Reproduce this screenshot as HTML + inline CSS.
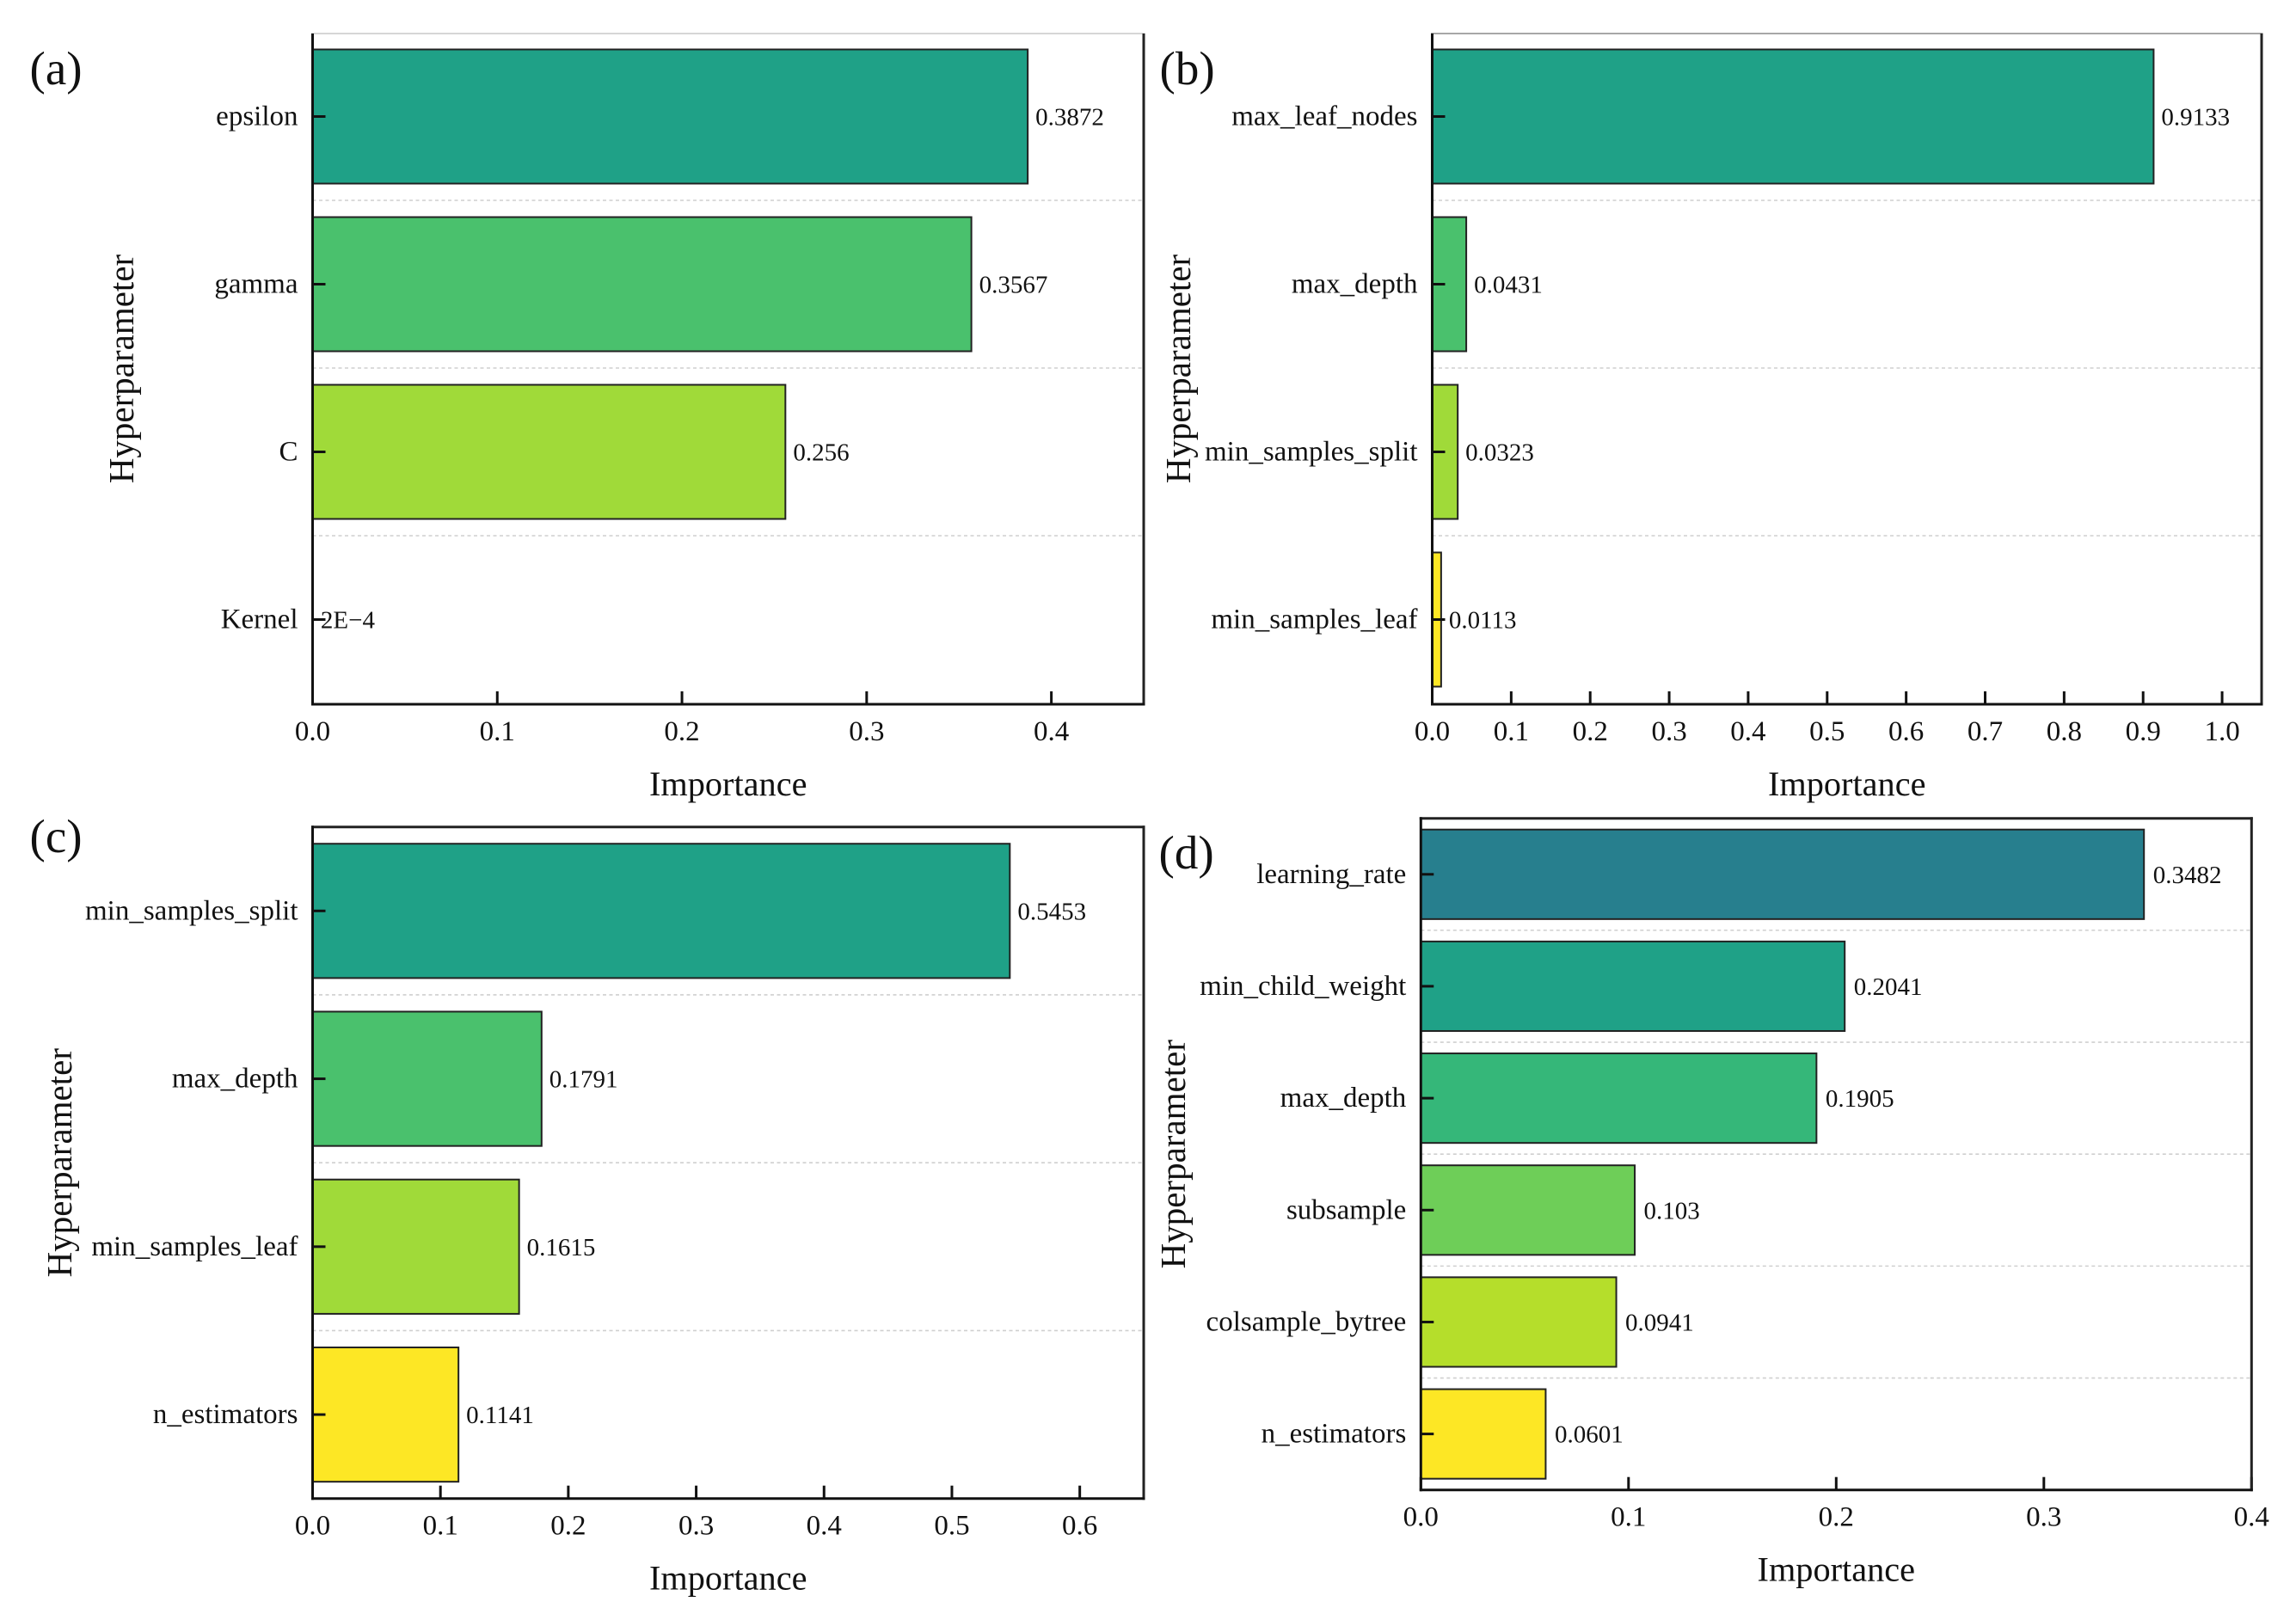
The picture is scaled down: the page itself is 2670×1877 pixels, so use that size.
<!DOCTYPE html>
<html lang="en">
<head>
<meta charset="utf-8">
<title>Hyperparameter importance</title>
<style>
html,body{margin:0;padding:0;background:#fff;}
svg{display:block;font-family:"Liberation Serif","Times New Roman",serif;}
text{fill:#111;}
</style>
</head>
<body>
<svg id="figure" xmlns="http://www.w3.org/2000/svg" width="2670" height="1877" viewBox="0 0 2670 1877"></svg>
<script>
const categoriesA = ["epsilon", "gamma", "C", "Kernel"];
const valuesA = [0.3872, 0.3567, 0.256, 0.0002];
const ticksA = [0.0, 0.1, 0.2, 0.3, 0.4];

const categoriesB = ["max_leaf_nodes", "max_depth", "min_samples_split", "min_samples_leaf"];
const valuesB = [0.9133, 0.0431, 0.0323, 0.0113];
const ticksB = [0.0, 0.1, 0.2, 0.3, 0.4, 0.5, 0.6, 0.7, 0.8, 0.9, 1.0];

const categoriesC = ["min_samples_split", "max_depth", "min_samples_leaf", "n_estimators"];
const valuesC = [0.5453, 0.1791, 0.1615, 0.1141];
const ticksC = [0.0, 0.1, 0.2, 0.3, 0.4, 0.5, 0.6];

const categoriesD = ["learning_rate", "min_child_weight", "max_depth", "subsample", "colsample_bytree", "n_estimators"];
const valuesD = [0.3482, 0.2041, 0.1905, 0.103, 0.0941, 0.0601];
const ticksD = [0.0, 0.1, 0.2, 0.3, 0.4];

const paletteFour = ["#1fa187", "#4ac16d", "#a0da39", "#fde725"];
const paletteSix = ["#277f8e", "#1fa187", "#35b779", "#6ece58", "#b5de2b", "#fde725"];

const NS = "http://www.w3.org/2000/svg";
const figure = document.getElementById("figure");

function line(parent, x1, y1, x2, y2, stroke, width, dash) {
  const el = document.createElementNS(NS, "line");
  el.setAttribute("x1", x1);
  el.setAttribute("y1", y1);
  el.setAttribute("x2", x2);
  el.setAttribute("y2", y2);
  el.setAttribute("stroke", stroke);
  el.setAttribute("stroke-width", width);
  if (dash) el.setAttribute("stroke-dasharray", dash);
  parent.appendChild(el);
  return el;
}

function label(parent, x, y, content, size, anchor, rotate) {
  const el = document.createElementNS(NS, "text");
  el.setAttribute("x", x);
  el.setAttribute("y", y);
  el.setAttribute("font-size", size);
  el.setAttribute("text-anchor", anchor);
  if (rotate) el.setAttribute("transform", "rotate(-90 " + x + " " + y + ")");
  el.textContent = content;
  parent.appendChild(el);
  return el;
}

function printed(v) {
  if (v < 0.001) return v.toExponential(0).toUpperCase().replace("-", "\u2212");
  return String(v);
}

function drawPanel(cfg) {
  const g = document.createElementNS(NS, "g");
  
  
  figure.appendChild(g);

  const plotW = cfg.right - cfg.left;
  const plotH = cfg.bottom - cfg.top;
  const band = plotH / cfg.categories.length;
  const xScale = function (v) { return cfg.left + v / cfg.xMax * plotW; };
  const yScale = function (i) { return cfg.top + cfg.shift + (i + 0.5) * band; };
  const barH = band * 0.8;

  // separators between bars
  for (let i = 1; i < cfg.categories.length; i++) {
    const sep = line(g, cfg.left, yScale(i) - band / 2, cfg.right, yScale(i) - band / 2, "#cfcfcf", 1.6, "4 3.5");
    
    
  }

  // bars
  cfg.values.forEach(function (v, i) {
    const bar = document.createElementNS(NS, "rect");
    bar.setAttribute("x", xScale(0));
    bar.setAttribute("y", yScale(i) - barH / 2);
    bar.setAttribute("width", xScale(v) - xScale(0));
    bar.setAttribute("height", barH);
    bar.setAttribute("fill", cfg.palette[i]);
    bar.setAttribute("stroke", "#222");
    bar.setAttribute("stroke-width", 2);
    
    
    g.appendChild(bar);

    const val = label(g, xScale(v) + cfg.valueGap, yScale(i) + 10, printed(v), 29, "start");
    
    

    const tick = line(g, cfg.left, yScale(i), cfg.left + 15, yScale(i), "#111", 3);
    
    

    const cat = label(g, cfg.left - 17, yScale(i) + 10, cfg.categories[i], 33, "end");
    
    
  });

  // x ticks
  cfg.ticks.forEach(function (t) {
    const tick = line(g, xScale(t), cfg.bottom, xScale(t), cfg.bottom - 15, "#111", 3);
    
    
    const txt = label(g, xScale(t), cfg.bottom + 42, t.toFixed(1), 33, "middle");
    
    
  });

  // spines
  const hw = 1.5;
  const spineTop = line(g, cfg.left - hw, cfg.top, cfg.right + hw, cfg.top, cfg.topColor, cfg.topWidth);
  
  
  const spineRight = line(g, cfg.right, cfg.top - (cfg.topWidth > 2 ? hw : 0), cfg.right, cfg.bottom + hw, "#222", 3);
  
  
  const spineLeft = line(g, cfg.left, cfg.top - (cfg.topWidth > 2 ? hw : 0), cfg.left, cfg.bottom + hw, "#111", 3);
  
  
  const spineBottom = line(g, cfg.left - hw, cfg.bottom, cfg.right + hw, cfg.bottom, "#111", 3);
  
  

  // titles
  const xTitle = label(g, (cfg.left + cfg.right) / 2, cfg.bottom + cfg.xTitleGap, "Importance", 40.3, "middle");
  
  
  const yTitle = label(g, cfg.yTitleX, (cfg.top + cfg.bottom) / 2, "Hyperparameter", 41, "middle", true);
  
  
  const letter = label(g, cfg.letterX, cfg.letterY, "(" + cfg.id + ")", 55, "start");
  
  
}

drawPanel({ id: "a", categories: categoriesA, values: valuesA, ticks: ticksA, palette: paletteFour,
  xMax: 0.45, left: 363.5, right: 1330, top: 39, bottom: 819, shift: -1, valueGap: 9, topColor: "#c8c8c8", topWidth: 1.5,
  xTitleGap: 106, yTitleX: 155, letterX: 34.5, letterY: 98 });
drawPanel({ id: "b", categories: categoriesB, values: valuesB, ticks: ticksB, palette: paletteFour,
  xMax: 1.05, left: 1665.5, right: 2630, top: 39, bottom: 819, shift: -1, valueGap: 9, topColor: "#8a8a8a", topWidth: 1.5,
  xTitleGap: 106, yTitleX: 1384, letterX: 1348.5, letterY: 98 });
drawPanel({ id: "c", categories: categoriesC, values: valuesC, ticks: ticksC, palette: paletteFour,
  xMax: 0.65, left: 363.5, right: 1330, top: 961.7, bottom: 1742.7, shift: 0, valueGap: 9, topColor: "#222", topWidth: 3,
  xTitleGap: 106, yTitleX: 83, letterX: 34.5, letterY: 991 });
drawPanel({ id: "d", categories: categoriesD, values: valuesD, ticks: ticksD, palette: paletteSix,
  xMax: 0.4, left: 1652.3, right: 2618.3, top: 951.7, bottom: 1732.7, shift: 0, valueGap: 10.5, topColor: "#222", topWidth: 3,
  xTitleGap: 106, yTitleX: 1378, letterX: 1347.5, letterY: 1010 });
</script>
</body>
</html>
